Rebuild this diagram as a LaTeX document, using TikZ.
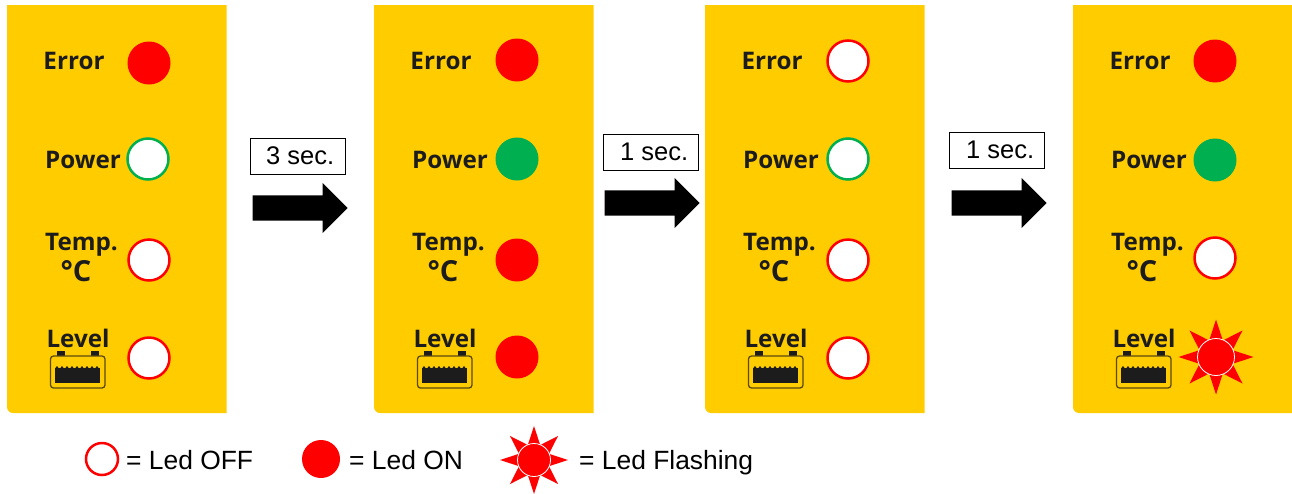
\documentclass[tikz,border=0pt]{standalone}
\usepackage{fontspec}
\usetikzlibrary{shapes.geometric, shapes.arrows}
\setmainfont{Liberation Sans}
\newfontfamily\panelfont{Open Sans}

\definecolor{paneyellow}{HTML}{FFCC00}
\definecolor{ledred}{HTML}{FF0000}
\definecolor{ledgreen}{HTML}{00B050}
\definecolor{inkdark}{HTML}{1C1C1C}
\definecolor{batteryedge}{HTML}{5A4A10}

\tikzset{
    paneltext/.style={text=inkdark, inner sep=0pt, font=\panelfont\bfseries\fontsize{24.2}{26}\selectfont},
    tempunit/.style={paneltext, font=\panelfont\bfseries\fontsize{29}{31}\selectfont},
    legendtext/.style={anchor=base west, inner sep=0pt, font=\fontsize{26.4}{28}\selectfont},
    ledoff/.style={circle, draw=ledred, line width=2.5pt, fill=white, minimum size=41pt, inner sep=0pt},
    ledgreenoff/.style={ledoff, draw=ledgreen},
    ledon/.style={circle, fill=ledred, minimum size=43pt, inner sep=0pt},
    ledgreenon/.style={ledon, fill=ledgreen},
    flashrays/.style={star, star points=8, star point ratio=2.1, fill=ledred, inner sep=0pt},
    flashcore/.style={circle, draw=white, line width=0.8pt, fill=ledred, inner sep=0pt},
    timebox/.style={draw, line width=1pt, fill=white, minimum width=95pt, minimum height=36pt, inner sep=0pt},
    timetext/.style={anchor=west, inner sep=0pt, font=\fontsize{25.5}{28}\selectfont},
    blockarrow/.style={single arrow, fill=black, inner xsep=0pt, inner ysep=12.5pt, minimum height=95pt,
        single arrow head extend=12.5pt, single arrow tip angle=90, anchor=tip},
    pics/ledpanel/.style={code={
        \fill[paneyellow] (226.5,5) -- (226.5,413) [rounded corners=6pt] -- (7,413) [sharp corners] -- (7,5) -- cycle;
        \node[paneltext] (-error) at (74,61) {Error};
        \node[paneltext] (-power) at (83,160) {Power};
        \node[paneltext] (-temp) at (81.5,245) {Temp.};
        \node[tempunit] (-unit) at (76,271) {°C};
        \node[paneltext] (-level) at (78,338) {Level};
        % Battery symbol
        \fill[inkdark] (57,351) rectangle (65,357);
        \fill[inkdark] (91,351) rectangle (99,357);
        \draw[batteryedge, line width=1.3pt, rounded corners=3pt, fill=paneyellow] (50.5,356) rectangle (105,388);
        \fill[inkdark] (55,367.5) rectangle (100,383);
        \foreach \bx in {57,62,...,97} {
            \fill[inkdark] (\bx,367.5) circle (1.3pt);
        }
    }}
}

\begin{document}
\begin{tikzpicture}[x=1pt, y=-1pt]
    \useasboundingbox (0,0) rectangle (1292,493);

    % Panels
    \pic (first) at (0,0) {ledpanel};
    \pic (second) at (367,0) {ledpanel};
    \pic (third) at (698,0) {ledpanel};
    \pic (fourth) at (1066,0) {ledpanel};

    % Leds of the first panel
    \node[ledon] (errorA) at (149,63) {};
    \node[ledgreenoff] (powerA) at (148,159) {};
    \node[ledoff] (tempA) at (149,260) {};
    \node[ledoff] (levelA) at (149,358) {};

    % Leds of the second panel
    \node[ledon] (errorB) at (517,60) {};
    \node[ledgreenon] (powerB) at (517,159) {};
    \node[ledon] (tempB) at (517,260) {};
    \node[ledon] (levelB) at (517,357) {};

    % Leds of the third panel
    \node[ledoff] (errorC) at (848,61) {};
    \node[ledgreenoff] (powerC) at (848,159) {};
    \node[ledoff] (tempC) at (848,260) {};
    \node[ledoff] (levelC) at (848,358) {};

    % Leds of the fourth panel
    \node[ledon] (errorD) at (1215,61) {};
    \node[ledgreenon] (powerD) at (1215,160) {};
    \node[ledoff] (tempD) at (1215,258) {};
    \node[flashrays, minimum size=75pt] (raysD) at (1216,357) {};
    \node[flashcore, minimum size=37pt] (levelD) at (raysD.center) {};

    % Time steps
    \node[timebox] (boxA) at (297.5,156) {};
    \node[timetext] (secA) at (266,156) {3 sec.};
    \node[blockarrow] (arrowA) at (348,208) {};

    \node[timebox] (boxB) at (651,152) {};
    \node[timetext] (secB) at (620,152) {1 sec.};
    \node[blockarrow] (arrowB) at (700,203) {};

    \node[timebox] (boxC) at (996.5,150) {};
    \node[timetext] (secC) at (966,150) {1 sec.};
    \node[blockarrow] (arrowC) at (1047,203) {};

    % Legend
    \node[ledoff, minimum size=32pt] (legendOff) at (102,459) {};
    \node[legendtext] (textOff) at (126,469) {= Led OFF};
    \node[ledon, minimum size=38pt] (legendOn) at (321,459) {};
    \node[legendtext] (textOn) at (349,469) {= Led ON};
    \node[flashrays, minimum size=68pt] (legendRays) at (534,460) {};
    \node[flashcore, minimum size=33pt] (legendCore) at (legendRays.center) {};
    \node[legendtext] (textFlash) at (579,469) {= Led Flashing};
\end{tikzpicture}
\end{document}
